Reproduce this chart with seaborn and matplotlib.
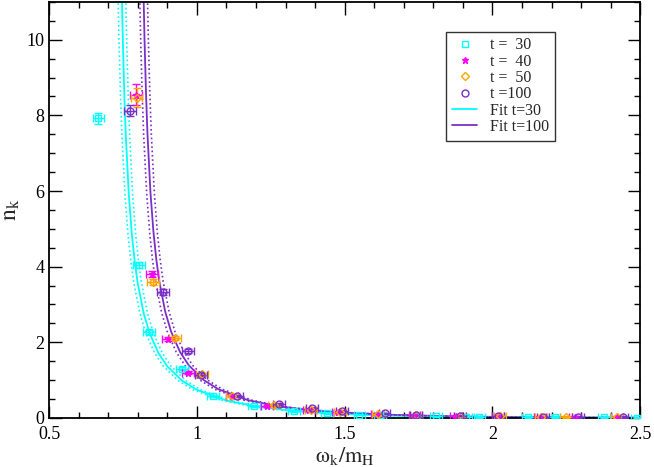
import numpy as np
import pandas as pd
import seaborn as sns
import matplotlib
matplotlib.use("Agg")
import matplotlib.pyplot as plt
from matplotlib.lines import Line2D
from matplotlib.ticker import MultipleLocator, FormatStrFormatter

# data points (omega_k/m_H, n_k)
t30_x = [0.667, 0.804, 0.838, 0.949, 1.054, 1.193, 1.330, 1.440, 1.550, 1.620,
         1.740, 1.810, 1.910, 1.956, 2.120, 2.210, 2.378, 2.490]
t30_y = [7.92, 4.05, 2.28, 1.30, 0.58, 0.32, 0.19, 0.13, 0.09, 0.08,
         0.05, 0.045, 0.035, 0.03, 0.02, 0.02, 0.015, 0.01]
t30_yerr = [0.15, 0.08, 0.05, 0.04, 0.03, 0.03, 0.02, 0.02, 0.02, 0.02,
            0.02, 0.02, 0.02, 0.02, 0.02, 0.02, 0.02, 0.02]

t40_x = [0.794, 0.848, 0.902, 0.970, 1.118, 1.236, 1.380, 1.477, 1.608, 1.736,
         1.878, 2.020, 2.160, 2.280, 2.420]
t40_y = [8.55, 3.81, 2.09, 1.19, 0.58, 0.32, 0.20, 0.15, 0.10, 0.07,
         0.05, 0.04, 0.03, 0.02, 0.02]
t40_yerr = [0.27, 0.08, 0.05, 0.04, 0.03, 0.03, 0.02, 0.02, 0.02, 0.02,
            0.02, 0.02, 0.02, 0.02, 0.02]

t50_x = [0.796, 0.853, 0.926, 1.017, 1.120, 1.262, 1.385, 1.483, 1.612, 1.742,
         1.890, 2.025, 2.165, 2.250, 2.422]
t50_y = [8.47, 3.60, 2.12, 1.16, 0.58, 0.33, 0.21, 0.15, 0.10, 0.07,
         0.05, 0.04, 0.03, 0.02, 0.02]
t50_yerr = [0.25, 0.08, 0.05, 0.04, 0.03, 0.03, 0.02, 0.02, 0.02, 0.02,
            0.02, 0.02, 0.02, 0.02, 0.02]

t100_x = [0.774, 0.885, 0.970, 1.014, 1.135, 1.277, 1.390, 1.490, 1.635, 1.740,
          1.890, 2.020, 2.170, 2.290, 2.440]
t100_y = [8.12, 3.33, 1.77, 1.14, 0.58, 0.37, 0.26, 0.18, 0.12, 0.08,
          0.06, 0.04, 0.03, 0.02, 0.02]
t100_yerr = [0.15, 0.08, 0.05, 0.04, 0.03, 0.03, 0.02, 0.02, 0.02, 0.02,
             0.02, 0.02, 0.02, 0.02, 0.02]

x_err = 0.02

# fit curves (central line and the two dotted band edges)
fit30_x = [0.745, 0.747, 0.750, 0.755, 0.760, 0.770, 0.780, 0.790, 0.800, 0.820,
           0.840, 0.870, 0.900, 0.950, 1.000, 1.100, 1.200, 1.300, 1.400, 1.600,
           1.800, 2.000, 2.250, 2.500]
fit30_lo_x = [0.732, 0.734, 0.737, 0.742, 0.747, 0.757, 0.767, 0.777, 0.787, 0.807,
              0.827, 0.857, 0.887, 0.937, 0.987, 1.087, 1.187, 1.287, 1.387, 1.587,
              1.787, 1.987, 2.237, 2.487]
fit30_hi_x = [0.758, 0.760, 0.763, 0.768, 0.773, 0.783, 0.793, 0.803, 0.813, 0.833,
              0.853, 0.883, 0.913, 0.963, 1.013, 1.113, 1.213, 1.313, 1.413, 1.613,
              1.813, 2.013, 2.263, 2.513]
fit30_y = [11.8, 10.9, 9.86, 8.46, 7.40, 5.88, 4.86, 4.12, 3.56, 2.77,
           2.245, 1.717, 1.365, 0.985, 0.744, 0.461, 0.304, 0.208, 0.146, 0.075,
           0.040, 0.021, 0.0099, 0.0046]

fit100_x = [0.818, 0.820, 0.823, 0.828, 0.833, 0.843, 0.853, 0.863, 0.873, 0.893,
            0.913, 0.943, 0.973, 1.023, 1.073, 1.173, 1.273, 1.373, 1.473, 1.673,
            1.873, 2.073, 2.273, 2.500]
fit100_lo_x = [0.805, 0.807, 0.810, 0.815, 0.820, 0.830, 0.840, 0.850, 0.860, 0.880,
               0.900, 0.930, 0.960, 1.010, 1.060, 1.160, 1.260, 1.360, 1.460, 1.660,
               1.860, 2.060, 2.260, 2.487]
fit100_hi_x = [0.831, 0.833, 0.836, 0.841, 0.846, 0.856, 0.866, 0.876, 0.886, 0.906,
               0.926, 0.956, 0.986, 1.036, 1.086, 1.186, 1.286, 1.386, 1.486, 1.686,
               1.886, 2.086, 2.286, 2.513]
fit100_y = [11.9, 11.08, 9.99, 8.58, 7.50, 5.97, 4.93, 4.18, 3.61, 2.81,
            2.28, 1.745, 1.389, 1.004, 0.759, 0.471, 0.312, 0.214, 0.151, 0.078,
            0.041, 0.022, 0.0122, 0.0062]

c30, c40, c50, c100 = "#00FFFF", "#FF00FF", "#FFA500", "#7A2FC6"

sns.set_theme(style="ticks")
plt.rcParams["font.family"] = ["Liberation Serif", "DejaVu Serif"]
plt.rcParams["mathtext.fontset"] = "stix"

fig = plt.figure(figsize=(6.54, 4.67), dpi=100)
ax = fig.add_axes([0.075, 0.105, 0.904, 0.891])

# fit lines
for xs, ys, col in [(fit30_x, fit30_y, c30), (fit100_x, fit100_y, c100)]:
    df = pd.DataFrame({"w": xs, "n": ys})
    sns.lineplot(data=df, x="w", y="n", ax=ax, color=col, lw=1.3,
                 sort=False, estimator=None)
for xs, ys, col in [(fit30_lo_x, fit30_y, c30), (fit30_hi_x, fit30_y, c30),
                    (fit100_lo_x, fit100_y, c100), (fit100_hi_x, fit100_y, c100)]:
    df = pd.DataFrame({"w": xs, "n": ys})
    sns.lineplot(data=df, x="w", y="n", ax=ax, color=col, lw=1.2,
                 linestyle=(0, (1, 1.6)), sort=False, estimator=None)

# data with error bars
series = [
    (t30_x, t30_y, t30_yerr, c30, "s", "none"),
    (t40_x, t40_y, t40_yerr, c40, "*", c40),
    (t50_x, t50_y, t50_yerr, c50, "D", "none"),
    (t100_x, t100_y, t100_yerr, c100, "o", "none"),
]
for xs, ys, ye, col, mk, fc in series:
    ms = 4 if mk == "D" else 5
    ax.errorbar(xs, ys, xerr=x_err, yerr=ye, fmt=mk, color=col, mfc=fc,
                mec=col, ms=ms, mew=1.0, elinewidth=1.0, capsize=3, capthick=1.0,
                zorder=3)

ax.set_xlim(0.5, 2.5)
ax.set_ylim(0, 11)
ax.xaxis.set_major_locator(MultipleLocator(0.5))
ax.xaxis.set_minor_locator(MultipleLocator(0.1))
ax.yaxis.set_major_locator(MultipleLocator(2))
ax.yaxis.set_minor_locator(MultipleLocator(0.5))
ax.xaxis.set_major_formatter(FormatStrFormatter("%g"))
ax.tick_params(which="both", direction="in", top=True, right=True,
               labelsize=13, colors="black", width=1.0)
ax.tick_params(which="major", length=9)
ax.tick_params(which="minor", length=4.5)
ax.tick_params(axis="x", which="major", pad=6)
for sp in ax.spines.values():
    sp.set_color("black")
    sp.set_linewidth(1.3)

ax.set_xlabel(r"$\mathrm{\omega_k/m_H}$", fontsize=16, labelpad=1)
ax.set_ylabel(r"$\mathrm{n_k}$", fontsize=17)
ax.yaxis.set_label_coords(-0.046, 0.5)

handles = [
    Line2D([], [], ls="none", marker="s", mfc="none", mec=c30, ms=5),
    Line2D([], [], ls="none", marker="*", mfc=c40, mec=c40, ms=5),
    Line2D([], [], ls="none", marker="D", mfc="none", mec=c50, ms=4),
    Line2D([], [], ls="none", marker="o", mfc="none", mec=c100, ms=5),
    Line2D([], [], color=c30, lw=1.3),
    Line2D([], [], color=c100, lw=1.3),
]
labels = ["t =  30", "t =  40", "t =  50", "t =100", "Fit t=30", "Fit t=100"]
leg = ax.legend(handles, labels, loc="upper left", bbox_to_anchor=(0.672, 0.928),
                borderaxespad=0, fontsize=11.5, frameon=True, fancybox=False,
                edgecolor="black", handlelength=1.6, handletextpad=0.8,
                labelspacing=0.02, borderpad=0.35)
leg.get_frame().set_linewidth(1.0)

fig.savefig("out.png", dpi=100)
